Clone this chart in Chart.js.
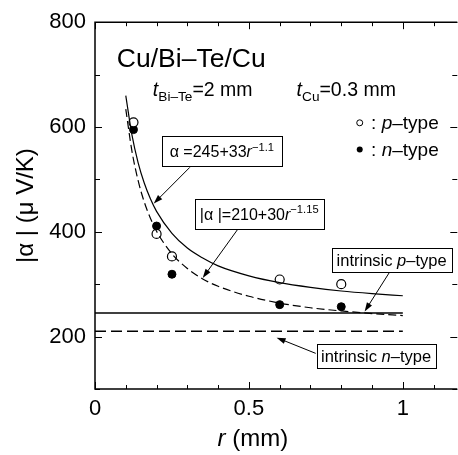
<!DOCTYPE html>
<html>
<head>
<meta charset="utf-8">
<script src="https://cdn.jsdelivr.net/npm/chart.js@4.4.1/dist/chart.umd.min.js"></script>
<style>
html, body { margin: 0; padding: 0; overflow: hidden; background: #fff; }
canvas { display: block; }
</style>
</head>
<body>
<!-- slightly wider than the window: the right frame edge is cut off like in the original -->
<canvas id="chart" width="463" height="455"></canvas>
<script>
const pR = [0.125, 0.2, 0.25, 0.6, 0.8];
const pAlpha = [609, 396, 353, 309, 300];
const nR = [0.125, 0.2, 0.25, 0.6, 0.8];
const nAlpha = [595, 411, 319, 261, 257];

// fitted curves as drawn in the figure
const fitR = [0.1, 0.12, 0.14, 0.16, 0.18, 0.2, 0.25, 0.3, 0.35, 0.4, 0.5, 0.6, 0.7, 0.8, 0.9, 1.0];
const fitP = [660, 585, 532, 493, 463, 439, 397, 369, 350, 335, 316, 303, 294, 287, 282, 278];
const fitN = [634, 554, 498, 457, 426, 401, 358, 330, 310, 296, 277, 264, 255, 249, 244, 240];

// intrinsic levels
const intrinsicR = [0, 1];
const intrinsicP = [245, 245];
const intrinsicN = [210, 210];

// ticks
const xTicks = [0, 0.1, 0.2, 0.3, 0.4, 0.5, 0.6, 0.7, 0.8, 0.9, 1, 1.1];
const xLabeled = [0, 0.5, 1];
const xLabels = ['0', '0.5', '1'];
const yTicks = [100, 200, 300, 400, 500, 600, 700, 800];
const yLabeled = [200, 400, 600, 800];
const yLabels = ['200', '400', '600', '800'];

const FONT = "'Liberation Sans', Arial, sans-serif";
Chart.defaults.font.family = FONT;
Chart.defaults.color = '#000';

const pts = (xs, ys) => xs.map((v, i) => ({ x: v, y: ys[i] }));

// draw text made of pieces (italic / sub / sup)
function richWidth(ctx, segs, size) {
  let w = 0;
  segs.forEach(s => {
    const fs = (s.sub || s.sup) ? size * 0.7 : size;
    ctx.font = (s.it ? 'italic ' : '') + fs + 'px ' + FONT;
    w += ctx.measureText(s.t).width;
  });
  return w;
}
function drawRich(ctx, x, y, segs, size) {
  ctx.textBaseline = 'alphabetic';
  ctx.textAlign = 'left';
  segs.forEach(s => {
    const fs = (s.sub || s.sup) ? size * 0.7 : size;
    ctx.font = (s.it ? 'italic ' : '') + fs + 'px ' + FONT;
    let dy = 0;
    if (s.sub) dy = size * 0.3;
    if (s.sup) dy = -size * 0.42;
    ctx.fillText(s.t, x, y + dy);
    x += ctx.measureText(s.t).width;
  });
}

function arrow(ctx, x1, y1, x2, y2) {
  const ang = Math.atan2(y2 - y1, x2 - x1);
  const L = 9, W = 3;
  ctx.beginPath();
  ctx.moveTo(x1, y1);
  ctx.lineTo(x2 - L * 0.8 * Math.cos(ang), y2 - L * 0.8 * Math.sin(ang));
  ctx.stroke();
  ctx.beginPath();
  ctx.moveTo(x2, y2);
  ctx.lineTo(x2 - L * Math.cos(ang) + W * Math.sin(ang), y2 - L * Math.sin(ang) - W * Math.cos(ang));
  ctx.lineTo(x2 - L * Math.cos(ang) - W * Math.sin(ang), y2 - L * Math.sin(ang) + W * Math.cos(ang));
  ctx.closePath();
  ctx.fill();
}

// labelled boxes with arrows (data coordinates)
const boxes = [
  { x0: 0.217, x1: 0.607, y0: 582, y1: 524, size: 16, from: [0.308, 523], to: [0.191, 454],
    segs: [{ t: 'α =245+33' }, { t: 'r', it: 1 }, { t: '−1.1', sup: 1 }] },
  { x0: 0.324, x1: 0.743, y0: 463, y1: 405, size: 16, from: [0.464, 405], to: [0.350, 312],
    segs: [{ t: '|α |=210+30' }, { t: 'r', it: 1 }, { t: '−1.15', sup: 1 }] },
  { x0: 0.769, x1: 1.158, y0: 369, y1: 323, size: 16.5, from: [0.957, 323], to: [0.876, 248],
    segs: [{ t: 'intrinsic ' }, { t: 'p', it: 1 }, { t: '–type' }] },
  { x0: 0.720, x1: 1.106, y0: 185, y1: 140, size: 16.5, from: [0.717, 168], to: [0.590, 198],
    segs: [{ t: 'intrinsic ' }, { t: 'n', it: 1 }, { t: '–type' }] }
];

const decor = {
  id: 'decor',
  afterDatasetsDraw(chart) {
    const { ctx, chartArea: a, scales: { x, y } } = chart;
    const X = v => x.getPixelForValue(v);
    const Y = v => y.getPixelForValue(v);
    ctx.save();
    ctx.strokeStyle = '#000';
    ctx.fillStyle = '#000';

    // frame (the right edge is cut off in the original)
    ctx.lineWidth = 1.5;
    ctx.beginPath();
    ctx.moveTo(a.right, a.top);
    ctx.lineTo(a.left, a.top);
    ctx.lineTo(a.left, a.bottom);
    ctx.lineTo(a.right, a.bottom);
    ctx.stroke();

    // inward ticks on all sides
    ctx.lineWidth = 1;
    ctx.beginPath();
    xTicks.forEach(v => {
      const px = Math.round(X(v)) + 0.5;
      const len = xLabeled.includes(v) ? 7 : 4;
      ctx.moveTo(px, a.bottom); ctx.lineTo(px, a.bottom - len);
      ctx.moveTo(px, a.top); ctx.lineTo(px, a.top + len);
    });
    yTicks.forEach(v => {
      const py = Math.round(Y(v)) + 0.5;
      const len = yLabeled.includes(v) ? 7 : 5;
      ctx.moveTo(a.left, py); ctx.lineTo(a.left + len, py);
      ctx.moveTo(a.right, py); ctx.lineTo(a.right - len, py);
    });
    ctx.stroke();

    // header text
    ctx.font = '26.5px ' + FONT;
    ctx.textBaseline = 'alphabetic';
    ctx.fillText('Cu/Bi–Te/Cu', X(0.071), Y(715));
    drawRich(ctx, X(0.188), Y(660), [{ t: 't', it: 1 }, { t: 'Bi–Te', sub: 1 }, { t: '=2 mm' }], 19.5);
    drawRich(ctx, X(0.655), Y(660), [{ t: 't', it: 1 }, { t: 'Cu', sub: 1 }, { t: '=0.3 mm' }], 19.5);

    // legend
    ctx.lineWidth = 1;
    ctx.beginPath();
    ctx.arc(X(0.86), Y(608), 3, 0, Math.PI * 2);
    ctx.stroke();
    ctx.beginPath();
    ctx.arc(X(0.86), Y(557), 3, 0, Math.PI * 2);
    ctx.fill();
    drawRich(ctx, X(0.897), Y(596), [{ t: ': ' }, { t: 'p', it: 1 }, { t: '–type' }], 19);
    drawRich(ctx, X(0.897), Y(545), [{ t: ': ' }, { t: 'n', it: 1 }, { t: '–type' }], 19);

    // boxes + arrows
    boxes.forEach(b => {
      const bx = X(b.x0), by = Y(b.y0), bw = X(b.x1) - bx, bh = Y(b.y1) - by;
      ctx.fillStyle = '#fff';
      ctx.fillRect(bx, by, bw, bh);
      ctx.fillStyle = '#000';
      ctx.lineWidth = 1;
      ctx.strokeRect(Math.round(bx) + 0.5, Math.round(by) + 0.5, Math.round(bw), Math.round(bh));
      const tw = richWidth(ctx, b.segs, b.size);
      drawRich(ctx, bx + (bw - tw) / 2, by + bh / 2 + b.size * 0.36, b.segs, b.size);
      arrow(ctx, X(b.from[0]), Y(b.from[1]), X(b.to[0]), Y(b.to[1]));
    });

    // x axis title
    const xt = [{ t: 'r', it: 1 }, { t: ' (mm)' }];
    const w = richWidth(ctx, xt, 24);
    drawRich(ctx, X(0.513) - w / 2, a.bottom + 57, xt, 24);

    ctx.restore();
  }
};

new Chart(document.getElementById('chart'), {
  type: 'scatter',
  data: {
    datasets: [
      { data: pts(fitR, fitP), showLine: true, borderColor: '#000', borderWidth: 1.2, pointRadius: 0,
        cubicInterpolationMode: 'monotone' },
      { data: pts(fitR, fitN), showLine: true, borderColor: '#000', borderWidth: 1.2, pointRadius: 0,
        borderDash: [8, 4], cubicInterpolationMode: 'monotone' },
      { data: pts(intrinsicR, intrinsicP), showLine: true, borderColor: '#000', borderWidth: 1.5, pointRadius: 0 },
      { data: pts(intrinsicR, intrinsicN), showLine: true, borderColor: '#000', borderWidth: 1.5, pointRadius: 0,
        borderDash: [11, 5] },
      { data: pts(pR, pAlpha), pointRadius: 4.5, pointBackgroundColor: '#fff', pointBorderColor: '#000',
        pointBorderWidth: 1.2 },
      { data: pts(nR, nAlpha), pointRadius: 4, pointBackgroundColor: '#000', pointBorderColor: '#000',
        pointBorderWidth: 1 }
    ]
  },
  options: {
    responsive: false,
    animation: false,
    devicePixelRatio: 1,
    layout: { padding: { top: 19, right: 0, left: 0, bottom: 0 } },
    plugins: { legend: { display: false }, tooltip: { enabled: false } },
    scales: {
      x: {
        type: 'linear', min: 0, max: 1.177,
        afterBuildTicks: s => { s.ticks = xTicks.map(v => ({ value: v })); },
        afterFit: s => { s.height = 66; s.paddingRight = 0; },
        grid: { display: false, drawTicks: false },
        border: { display: false },
        ticks: {
          autoSkip: false, maxRotation: 0, padding: 7,
          font: { size: 22 },
          callback: v => { const i = xLabeled.indexOf(v); return i >= 0 ? xLabels[i] : ''; }
        }
      },
      y: {
        type: 'linear', min: 100, max: 800,
        afterBuildTicks: s => { s.ticks = yTicks.map(v => ({ value: v })); },
        afterFit: s => { s.width = 95; },
        grid: { display: false, drawTicks: false },
        border: { display: false },
        ticks: {
          autoSkip: false, padding: 9,
          font: { size: 22 },
          callback: v => { const i = yLabeled.indexOf(v); return i >= 0 ? yLabels[i] : ''; }
        },
        title: { display: true, text: '|α | (μ V/K)', font: { size: 24 }, padding: { top: 12, bottom: 0 } }
      }
    }
  },
  plugins: [decor]
});
</script>
</body>
</html>
